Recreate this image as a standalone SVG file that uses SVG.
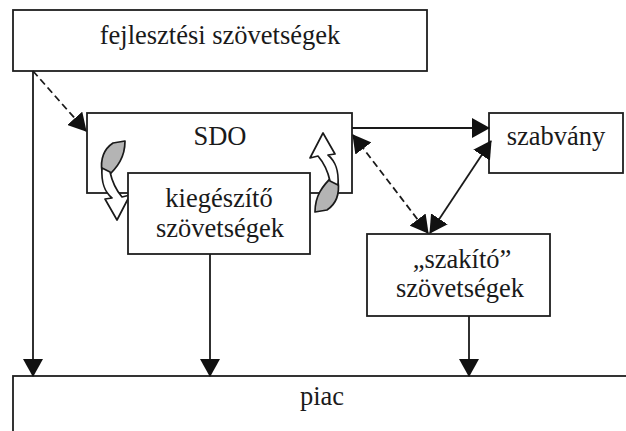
<svg xmlns="http://www.w3.org/2000/svg" width="626" height="431" viewBox="0 0 626 431">
  <defs>
    <style>
      .box { fill: #ffffff; stroke: #1e1e1e; stroke-width: 1.8; }
      .lbl { font-family: 'Liberation Serif', 'Times New Roman', serif; font-size: 26.5px; fill: #1a1a1a; text-anchor: middle; }
      .conn { fill: none; stroke: #1a1a1a; stroke-width: 1.8; }
      .dash { stroke-dasharray: 7 4; }
      .band-back { fill: #b4b4b4; stroke: #1a1a1a; stroke-width: 1.7; stroke-linejoin: round; }
      .band-front { fill: #ffffff; stroke: #1a1a1a; stroke-width: 1.7; stroke-linejoin: round; }
    </style>
    <marker id="arrow" viewBox="0 0 18 20" refX="17" refY="10" markerWidth="18" markerHeight="20" markerUnits="userSpaceOnUse" orient="auto-start-reverse">
      <path d="M0,0 L18,10 L0,20 Z" fill="#111"/>
    </marker>
    <!-- curved block arrow: grey back side on top, white front ending in a downward head -->
    <g id="curl">
      <path class="band-back" d="M113,143 L125,141 C125,157 118,167 106,178 L102,172 C100,158 104,149 113,143 Z"/>
      <path class="band-front" d="M102,168 C101,184 105,192 112,198 L105,199 L117,220 L130,195 L122,197 C116,190 112,181 110,172 Z"/>
    </g>
  </defs>

  <rect width="626" height="431" fill="#ffffff"/>

  <g id="fejlesztesi">
    <rect class="box" x="13" y="10" width="414" height="61"/>
    <text class="lbl" x="220" y="44">fejlesztési szövetségek</text>
  </g>

  <g id="sdo">
    <rect class="box" x="87" y="113" width="265" height="80"/>
    <text class="lbl" x="220" y="145">SDO</text>
  </g>

  <g id="curls">
    <use href="#curl"/>
    <use href="#curl" transform="translate(440,353) rotate(180)"/>
  </g>

  <g id="kiegeszito">
    <rect class="box" x="128" y="173" width="182" height="81"/>
    <text class="lbl" x="219" y="207">kiegészítő</text>
    <text class="lbl" x="220" y="237">szövetségek</text>
  </g>

  <g id="szabvany">
    <rect class="box" x="489" y="113" width="134" height="60"/>
    <text class="lbl" x="556" y="145">szabvány</text>
  </g>

  <g id="szakito">
    <rect class="box" x="367" y="234" width="183" height="82"/>
    <text class="lbl" x="462" y="268">„szakító”</text>
    <text class="lbl" x="460" y="297">szövetségek</text>
  </g>

  <g id="piac">
    <rect class="box" x="13" y="376" width="700" height="100"/>
    <text class="lbl" x="322" y="405">piac</text>
  </g>

  <g id="connectors">
    <path class="conn" d="M33,71 V376" marker-end="url(#arrow)"/>
    <path class="conn dash" d="M33,71 L86,131" marker-end="url(#arrow)"/>
    <path class="conn" d="M210,254 V376" marker-end="url(#arrow)"/>
    <path class="conn" d="M469,316 V376" marker-end="url(#arrow)"/>
    <path class="conn" d="M352,128 H489" marker-end="url(#arrow)"/>
    <path class="conn dash" d="M353,135 L428,233" marker-start="url(#arrow)" marker-end="url(#arrow)"/>
    <path class="conn" d="M491,141 L430,233" marker-start="url(#arrow)" marker-end="url(#arrow)"/>
  </g>
</svg>
